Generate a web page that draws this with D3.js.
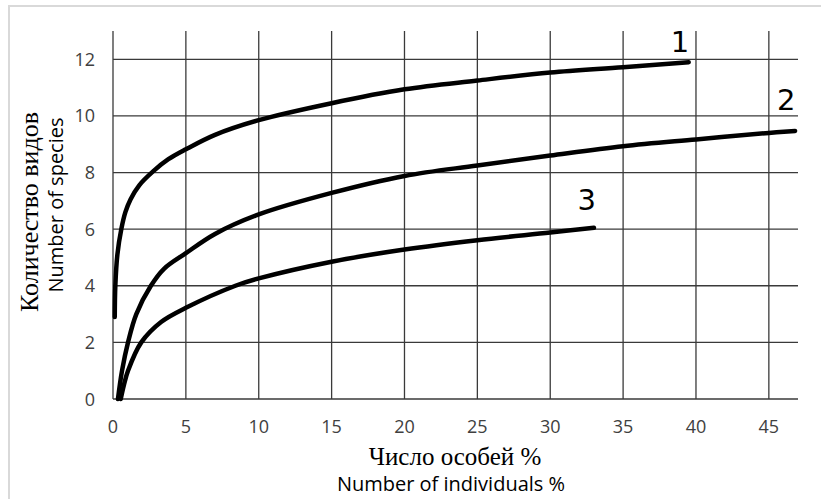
<!DOCTYPE html>
<html>
<head>
<meta charset="utf-8">
<script src="https://cdn.jsdelivr.net/npm/d3@7"></script>
<style>
  body { margin: 0; background: #fff; }
  svg { display: block; }
</style>
</head>
<body>
<div id="chart"></div>
<script>
// curve points: [x = % of individuals, y = number of species]
var curve1 = [[0.12, 2.9], [0.16, 4], [0.3, 5.1], [0.57, 6], [0.85, 6.6], [1.2, 7.05], [1.8, 7.55],
  [2.77, 8.05], [3.8, 8.47], [5, 8.82], [7, 9.33], [10, 9.85], [15, 10.45], [20, 10.94], [25, 11.25],
  [30, 11.53], [35, 11.72], [39.5, 11.9]];
var curve2 = [[0.34, 0], [0.62, 1], [1.03, 2], [1.6, 3], [2.6, 4], [3.5, 4.6], [5, 5.15], [7, 5.83],
  [10, 6.52], [15, 7.28], [20, 7.88], [25, 8.25], [30, 8.6], [35, 8.93], [40, 9.17], [45, 9.4], [46.8, 9.47]];
var curve3 = [[0.53, 0], [0.75, 0.5], [1.03, 1], [1.94, 2], [3.3, 2.72], [5, 3.22], [8.4, 4], [10, 4.26],
  [15, 4.85], [20, 5.28], [25, 5.61], [30, 5.88], [33, 6.05]];
var curveNames = ['1', '2', '3'];
var labelPos = [[38.9, 12.26], [46.2, 10.21], [32.5, 6.68]];
var xTicks = [0, 5, 10, 15, 20, 25, 30, 35, 40, 45];
var yTicks = [0, 2, 4, 6, 8, 10, 12];

var width = 821, height = 499;
var svg = d3.select('#chart').append('svg')
  .attr('width', width)
  .attr('height', height);

svg.append('rect')
  .attr('x', 9).attr('y', 6)
  .attr('width', 830).attr('height', 510)
  .attr('fill', 'white')
  .attr('stroke', '#d9d9d9')
  .attr('stroke-width', 2);

var x = d3.scaleLinear().domain([0, 47]).range([113, 798]);
var y = d3.scaleLinear().domain([0, 13]).range([399, 31]);

var grid = svg.append('g').attr('stroke', '#3a3a3a').attr('stroke-width', 1.3);
grid.selectAll('.vline').data(xTicks).enter().append('line')
  .attr('x1', function(d) { return x(d); })
  .attr('x2', function(d) { return x(d); })
  .attr('y1', y(0)).attr('y2', y(13));
grid.selectAll('.hline').data(yTicks).enter().append('line')
  .attr('y1', function(d) { return y(d); })
  .attr('y2', function(d) { return y(d); })
  .attr('x1', x(0)).attr('x2', x(47));

var tickFont = '"Open Sans", sans-serif';
var serif = '"Liberation Serif", "Times New Roman", serif';
svg.append('g').selectAll('text').data(xTicks).enter().append('text')
  .attr('x', function(d) { return x(d); })
  .attr('y', 433)
  .attr('text-anchor', 'middle')
  .attr('font-family', tickFont).attr('font-size', 18).attr('fill', '#404040')
  .text(function(d) { return d; });
svg.append('g').selectAll('text').data(yTicks).enter().append('text')
  .attr('x', 95)
  .attr('y', function(d) { return y(d) + 6.5; })
  .attr('text-anchor', 'end')
  .attr('font-family', tickFont).attr('font-size', 18).attr('fill', '#404040')
  .text(function(d) { return d; });

var line = d3.line()
  .x(function(d) { return x(d[0]); })
  .y(function(d) { return y(d[1]); })
  .curve(d3.curveCatmullRom.alpha(0.5));

svg.append('g').selectAll('path').data([curve1, curve2, curve3]).enter().append('path')
  .attr('d', line)
  .attr('fill', 'none')
  .attr('stroke', '#000')
  .attr('stroke-width', 4.5)
  .attr('stroke-linecap', 'round');

svg.append('g').selectAll('text').data(labelPos).enter().append('text')
  .attr('x', function(d) { return x(d[0]); })
  .attr('y', function(d) { return y(d[1]); })
  .attr('text-anchor', 'middle')
  .attr('font-family', '"DejaVu Sans", Verdana, sans-serif')
  .attr('font-size', 29)
  .attr('fill', '#000')
  .text(function(d, i) { return curveNames[i]; });

// axis titles
svg.append('text')
  .attr('transform', 'translate(38,212) rotate(-90)')
  .attr('text-anchor', 'middle')
  .attr('font-family', serif)
  .attr('font-size', 26).attr('fill', '#000')
  .text('Количество видов');
svg.append('text')
  .attr('transform', 'translate(63,205) rotate(-90)')
  .attr('text-anchor', 'middle')
  .attr('font-family', tickFont)
  .attr('font-size', 20).attr('fill', '#000')
  .text('Number of species');
svg.append('text')
  .attr('x', 455).attr('y', 465)
  .attr('text-anchor', 'middle')
  .attr('font-family', serif)
  .attr('font-size', 25).attr('fill', '#000')
  .text('Число особей %');
svg.append('text')
  .attr('x', 451).attr('y', 491)
  .attr('text-anchor', 'middle')
  .attr('font-family', tickFont)
  .attr('font-size', 20).attr('fill', '#000')
  .text('Number of individuals %');
</script>
</body>
</html>
